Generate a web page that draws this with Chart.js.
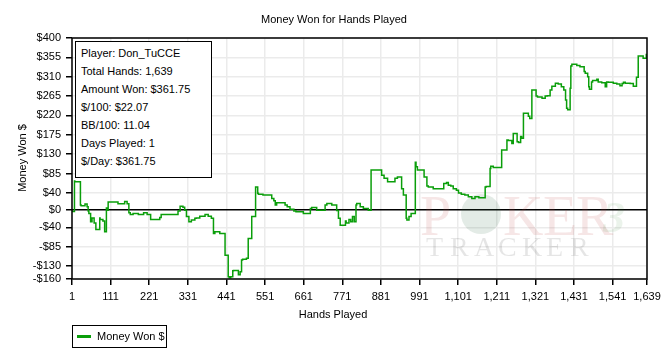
<!DOCTYPE html>
<html lang="en">
<head>
    <meta charset="UTF-8">
    <title>Money Won for Hands Played</title>
    <script src="https://cdn.jsdelivr.net/npm/chart.js@4.4.2/dist/chart.umd.min.js"></script>
    <style>
        body { margin: 0; background: #fff; font-family: "Liberation Sans", Arial, sans-serif; }
        .wrap { position: relative; width: 668px; height: 364px; background: #fff; }
        .info {
            position: absolute; left: 75px; top: 41px; width: 130px; height: 133px;
            background: #fff; border: 1px solid #000; padding: 2px 0 0 5px;
            font-size: 11px; line-height: 18px; color: #000;
        }
        .legend {
            position: absolute; left: 72px; top: 325px; width: 93px; height: 21px;
            border: 1px solid #000; font-size: 11px; line-height: 21px; color: #000;
        }
        .legend .swatch { position: absolute; left: 4px; top: 9px; width: 14px; height: 3px; background: #0a9e0a; }
        .legend span.lbl { position: absolute; left: 24px; top: 0; }
    </style>
</head>
<body>
<div class="wrap">
    <canvas id="moneyChart" width="668" height="364"></canvas>
    <div class="info" id="infoBox"></div>
    <div class="legend"><div class="swatch"></div><span class="lbl">Money Won $</span></div>
</div>
<script>
    // --- Data ---
    const hands = [1, 6, 8, 9, 25, 27, 38, 44, 47, 49, 54, 58, 64, 69, 72, 80, 81, 89, 94, 99,
        101, 104, 108, 132, 137, 151, 158, 163, 167, 175, 190, 205, 215, 225, 232, 251, 255, 265, 303, 309,
        317, 322, 327, 334, 341, 351, 355, 365, 380, 389, 398, 404, 408, 422, 437, 446, 449, 453, 459, 461,
        475, 480, 484, 487, 498, 503, 513, 518, 524, 526, 530, 532, 545, 570, 576, 580, 584, 586, 608, 614,
        622, 633, 639, 660, 665, 680, 684, 698, 708, 722, 727, 741, 755, 760, 765, 772, 780, 782, 790, 795,
        800, 805, 810, 812, 822, 831, 845, 853, 856, 883, 890, 900, 910, 921, 928, 940, 945, 953, 955, 961,
        967, 975, 979, 981, 985, 990, 1004, 1012, 1016, 1030, 1060, 1068, 1073, 1080, 1087, 1096, 1102, 1110, 1120, 1130,
        1140, 1149, 1160, 1170, 1178, 1181, 1192, 1194, 1201, 1225, 1228, 1240, 1244, 1254, 1258, 1260, 1269, 1273, 1279, 1282,
        1287, 1290, 1301, 1305, 1311, 1313, 1323, 1327, 1340, 1349, 1355, 1363, 1368, 1378, 1386, 1395, 1402, 1407, 1410, 1413,
        1420, 1422, 1425, 1439, 1448, 1460, 1463, 1470, 1473, 1475, 1481, 1484, 1496, 1500, 1510, 1520, 1524, 1529, 1543, 1553,
        1562, 1568, 1572, 1577, 1591, 1600, 1609, 1614, 1619, 1628, 1631, 1637, 1639];
    const moneyWon = [0, -3, -3, 68, 66, 12, 10, 14, 8, -2, -8, -27, -18, -30, -45, -45, -18, -22, -25, -50,
        5, 0, 19, 19, 15, 15, 20, 15, -6, -10, -8, -10, -6, -10, -22, -22, -17, -10, -10, -2,
        9, 7, 0, -15, -27, -23, -19, -18, -14, -10, -14, -19, -54, -50, -54, -105, -155, -157, -155, -141,
        -140, -150, -143, -116, -114, -112, -66, -15, -15, 54, 54, 39, 37, 35, 27, 22, 12, 17, 17, 12,
        8, 2, -2, -4, -8, -8, 4, 6, 0, 0, 12, 15.5, 12, -1, -19, -35, -35, -25, -30, -22,
        -27, -15, -27, 12, 15.5, 8, 4, 0, 93, 93, 81, 74, 66, 66, 74, 77, 50, 35, -19, -23,
        -15, -8, -8, 111, 101, 93, 93, 77, 56, 54, 50, 62, 64, 58, 56, 50, 46, 40, 37, 35,
        31, 27, 31, 29, 29, 54, 55, 97, 102, 99, 140, 140, 163, 162, 155, 178, 178, 159, 157, 171,
        167, 225, 225, 218, 213, 279, 279, 265, 263, 260, 265, 266, 279, 288, 295, 293, 287, 279, 256, 237,
        233, 283, 335, 339, 336, 333, 322, 318, 310, 287, 281, 298, 301, 304, 298, 296, 287, 298, 297, 295,
        293, 289, 294, 297, 295, 294, 288, 309, 358, 358, 353, 353, 361.75];

    const xTicks = [1, 111, 221, 331, 441, 551, 661, 771, 881, 991, 1101, 1211, 1321, 1431, 1541, 1639];
    const yTicks = [400, 355, 310, 265, 220, 175, 130, 85, 40, 0, -40, -85, -130, -160];

    const infoLines = ['Player: Don_TuCCE', 'Total Hands: 1,639', 'Amount Won: $361.75',
        '$/100: $22.07', 'BB/100: 11.04', 'Days Played: 1', '$/Day: $361.75'];

    document.getElementById('infoBox').innerHTML = infoLines.map(l => `<div>${l}</div>`).join('');

    const FONT = '"Liberation Sans", Arial, sans-serif';

    // watermark, titles and plot frame
    const decorPlugin = {
        id: 'decor',
        beforeDatasetsDraw(chart) {
            const ctx = chart.ctx;
            ctx.save();
            ctx.font = '56px "Liberation Serif", serif';
            ctx.fillStyle = 'rgba(190, 80, 80, 0.14)';
            ctx.textBaseline = 'alphabetic';
            ctx.fillText('P', 420, 235);
            ctx.fillText('K', 503, 235);
            ctx.fillText('E', 543, 235);
            ctx.fillText('R', 576, 235);
            ctx.beginPath();
            ctx.arc(481, 214, 20, 0, Math.PI * 2);
            ctx.fillStyle = 'rgba(60, 110, 80, 0.14)';
            ctx.fill();
            ctx.font = 'italic bold 44px "Liberation Serif", serif';
            ctx.fillStyle = 'rgba(60, 140, 60, 0.1)';
            ctx.fillText('3', 603, 232);
            ctx.font = '28px "Liberation Serif", serif';
            ctx.fillStyle = 'rgba(0, 0, 0, 0.1)';
            'TRACKER'.split('').forEach((c, i) => ctx.fillText(c, 426 + i * 24, 256));
            ctx.restore();
        },
        afterDraw(chart) {
            const ctx = chart.ctx;
            const a = chart.chartArea;
            ctx.save();
            ctx.strokeStyle = '#000';
            ctx.lineWidth = 1.5;
            ctx.strokeRect(a.left, a.top, a.right - a.left, a.bottom - a.top);
            ctx.fillStyle = '#000';
            ctx.font = '11px ' + FONT;
            ctx.textAlign = 'center';
            ctx.textBaseline = 'middle';
            ctx.fillText('Money Won for Hands Played', 334, 20);
            ctx.fillText('Hands Played', 333, 315);
            ctx.translate(23, 158);
            ctx.rotate(-Math.PI / 2);
            ctx.fillText('Money Won $', 0, 0);
            ctx.restore();
        }
    };

    new Chart(document.getElementById('moneyChart'), {
        type: 'line',
        data: {
            datasets: [{
                label: 'Money Won $',
                data: hands.map((h, i) => ({ x: h, y: moneyWon[i] })),
                borderColor: '#0a9e0a',
                borderWidth: 1.5,
                pointRadius: 0,
                stepped: 'after',
                fill: false
            }]
        },
        options: {
            responsive: false,
            animation: false,
            layout: { padding: { top: 38, right: 21, bottom: 0, left: 0 } },
            plugins: { legend: { display: false }, title: { display: false }, tooltip: { enabled: false } },
            scales: {
                x: {
                    type: 'linear',
                    min: 1,
                    max: 1639,
                    afterBuildTicks: s => { s.ticks = xTicks.map(v => ({ value: v })); },
                    afterFit: s => { s.height = 85; },
                    ticks: {
                        autoSkip: false, maxRotation: 0, padding: 5, color: '#000',
                        font: { family: FONT, size: 11 },
                        callback: v => v.toLocaleString('en-US')
                    },
                    grid: { color: '#ebebeb', lineWidth: 1.5, tickColor: '#000', tickLength: 6 },
                    border: { display: false }
                },
                y: {
                    min: -160,
                    max: 400,
                    afterBuildTicks: s => { s.ticks = yTicks.map(v => ({ value: v })); },
                    afterFit: s => { s.width = 72; },
                    ticks: {
                        padding: 5, color: '#000',
                        font: { family: FONT, size: 11 },
                        callback: v => (v < 0 ? '-$' + (-v) : '$' + v)
                    },
                    grid: {
                        color: c => (c.tick && c.tick.value === 0 ? '#000' : '#ebebeb'),
                        lineWidth: 1.5,
                        tickColor: '#000', tickLength: 6
                    },
                    border: { display: false }
                }
            }
        },
        plugins: [decorPlugin]
    });
</script>
</body>
</html>
